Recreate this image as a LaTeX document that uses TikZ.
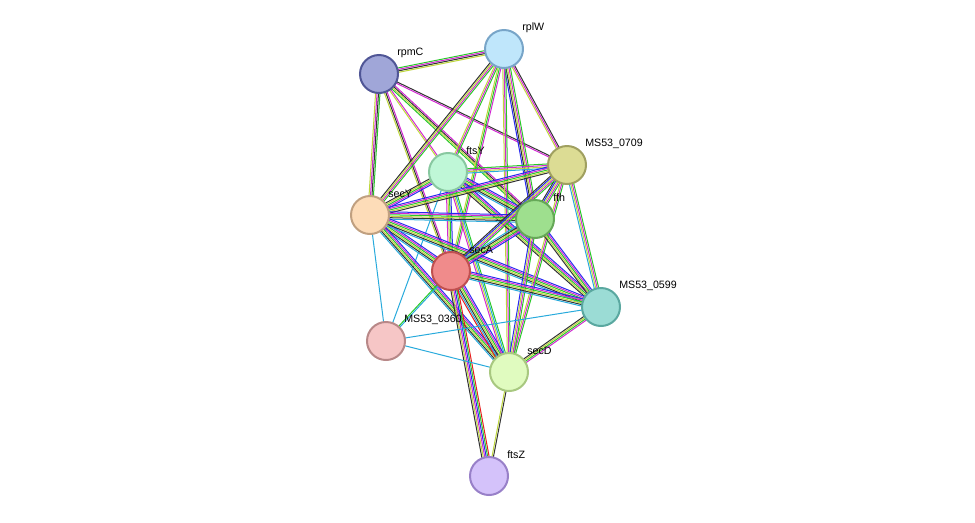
\documentclass[tikz,border=0pt]{standalone}
\usepackage{fontspec}
\setmainfont{Liberation Sans}
\usetikzlibrary{calc}
\definecolor{eg}{RGB}{40,200,40}
\definecolor{em}{RGB}{210,40,210}
\definecolor{ey}{RGB}{190,215,60}
\definecolor{ek}{RGB}{50,50,50}
\definecolor{eb}{RGB}{40,40,240}
\definecolor{ec}{RGB}{40,170,220}
\definecolor{er}{RGB}{230,30,30}
\tikzset{
  edge/.style={line width=0.75pt},
  prot/.style={circle,minimum size=28.5pt,inner sep=0pt,line width=1.5pt},
  lbl/.style={anchor=west,inner sep=0.75pt,font=\fontsize{8}{9}\selectfont}
}
\newcommand\bundle[3]{%
  \foreach \col [count=\n] in {#3} {\xdef\nb{\n}}%
  \foreach \col [count=\i] in {#3} {%
    \pgfmathsetmacro\off{(\i-(\nb+1)/2)*1.1}
    \draw[edge,\col] ($(#1)!\off pt!90:(#2)$) -- ($(#2)!\off pt!-90:(#1)$);}}
\begin{document}
\begin{tikzpicture}[x=0.75pt,y=0.75pt,yscale=-1,xscale=1]
\useasboundingbox (0,0) rectangle (975,522);
% protein positions
\coordinate (rpmC) at (379,74);
\coordinate (rplW) at (504,49);
\coordinate (m0709) at (567,165);
\coordinate (ftsY) at (448,172);
\coordinate (secY) at (370,215);
\coordinate (ffh) at (535,219);
\coordinate (secA) at (451,271);
\coordinate (m0599) at (601,307);
\coordinate (m0360) at (386,341);
\coordinate (secD) at (509,372);
\coordinate (ftsZ) at (489,476);
% evidence edges
\bundle{rpmC}{rplW}{eg,em,ek,ey}
\bundle{rpmC}{secY}{eg,ek,em,ey}
\bundle{rpmC}{ftsY}{em,ey}
\bundle{rpmC}{ffh}{em,ek,ey,eg}
\bundle{rpmC}{m0709}{ek,em}
\bundle{rpmC}{secA}{em,ek,ey}
\bundle{rplW}{secY}{eg,em,ey,ek}
\bundle{rplW}{ftsY}{eg,em,ey}
\bundle{rplW}{ffh}{eg,em,ey,ek,eb}
\bundle{rplW}{m0709}{ek,em,ey}
\bundle{rplW}{secA}{em,eg,ey}
\bundle{rplW}{secD}{eg,em,ey}
\bundle{ftsY}{secY}{eb,em,eg,ey,ek}
\bundle{ftsY}{ffh}{eb,em,eg,ey,ek,ec}
\bundle{ftsY}{m0709}{eg,em,ey,ec}
\bundle{ftsY}{secA}{eb,eg,ey,em}
\bundle{ftsY}{secD}{eg,ec,ey,em}
\bundle{ftsY}{m0599}{eb,em,eg,ey,ek}
\bundle{ftsY}{m0360}{ec}
\bundle{secY}{m0709}{eb,em,eg,ey,ek}
\bundle{secY}{ffh}{eb,em,eg,ey,ek,ec}
\bundle{secY}{secA}{eb,em,eg,ey,ek,ec}
\bundle{secY}{m0599}{eb,em,eg,ey,ek,ec}
\bundle{secY}{secD}{eb,em,eg,ey,ek,ec}
\bundle{secY}{m0360}{ec}
\bundle{m0709}{ffh}{eg,em,ey,eb,ek}
\bundle{m0709}{secA}{eg,em,ey,eb,ek}
\bundle{m0709}{m0599}{eg,em,ey,ec}
\bundle{m0709}{secD}{eg,em,ey}
\bundle{ffh}{secA}{eb,em,eg,ey,ek,ec}
\bundle{ffh}{m0599}{eb,em,eg,ey,ek}
\bundle{ffh}{secD}{eg,em,ey,eb}
\bundle{secA}{m0599}{eb,em,eg,ey,ek,ec}
\bundle{secA}{secD}{eb,em,eg,ey,ek,ec,er}
\bundle{secA}{ftsZ}{er,eg,eb,em,ey,ek}
\bundle{secA}{m0360}{ec,eg}
\bundle{m0599}{secD}{em,eg,ey,ek}
\bundle{m0599}{m0360}{ec}
\bundle{m0360}{secD}{ec}
\bundle{secD}{ftsZ}{ek,ey}
% proteins
\node[prot,fill={rgb,255:red,160;green,166;blue,216},draw={rgb,255:red,80;green,86;blue,150}] (nrpmC) at (rpmC) {};
\node[prot,fill={rgb,255:red,191;green,230;blue,251},draw={rgb,255:red,120;green,165;blue,200}] (nrplW) at (rplW) {};
\node[prot,fill={rgb,255:red,220;green,220;blue,148},draw={rgb,255:red,160;green,160;blue,96}] (nm0709) at (m0709) {};
\node[prot,fill={rgb,255:red,191;green,247;blue,215},draw={rgb,255:red,136;green,200;blue,160}] (nftsY) at (ftsY) {};
\node[prot,fill={rgb,255:red,253;green,220;blue,184},draw={rgb,255:red,192;green,160;blue,128}] (nsecY) at (secY) {};
\node[prot,fill={rgb,255:red,158;green,223;blue,142},draw={rgb,255:red,102;green,168;blue,88}] (nffh) at (ffh) {};
\node[prot,fill={rgb,255:red,240;green,139;blue,139},draw={rgb,255:red,192;green,80;blue,80}] (nsecA) at (secA) {};
\node[prot,fill={rgb,255:red,155;green,220;blue,213},draw={rgb,255:red,90;green,168;blue,160}] (nm0599) at (m0599) {};
\node[prot,fill={rgb,255:red,246;green,198;blue,198},draw={rgb,255:red,184;green,136;blue,136}] (nm0360) at (m0360) {};
\node[prot,fill={rgb,255:red,224;green,251;blue,191},draw={rgb,255:red,168;green,200;blue,128}] (nsecD) at (secD) {};
\node[prot,fill={rgb,255:red,212;green,194;blue,250},draw={rgb,255:red,152;green,128;blue,200}] (nftsZ) at (ftsZ) {};
% labels
\node[lbl] (trpmC) at ($(rpmC)+(17,-21)$) {rpmC};
\node[lbl] (trplW) at ($(rplW)+(17,-21)$) {rplW};
\node[lbl] (tm0709) at ($(m0709)+(17,-21)$) {MS53\_0709};
\node[lbl] (tftsY) at ($(ftsY)+(17,-21)$) {ftsY};
\node[lbl] (tsecY) at ($(secY)+(17,-21)$) {secY};
\node[lbl] (tffh) at ($(ffh)+(17,-21)$) {ffh};
\node[lbl] (tsecA) at ($(secA)+(17,-21)$) {secA};
\node[lbl] (tm0599) at ($(m0599)+(17,-21)$) {MS53\_0599};
\node[lbl] (tm0360) at ($(m0360)+(17,-21)$) {MS53\_0360};
\node[lbl] (tsecD) at ($(secD)+(17,-21)$) {secD};
\node[lbl] (tftsZ) at ($(ftsZ)+(17,-21)$) {ftsZ};
\end{tikzpicture}
\end{document}
